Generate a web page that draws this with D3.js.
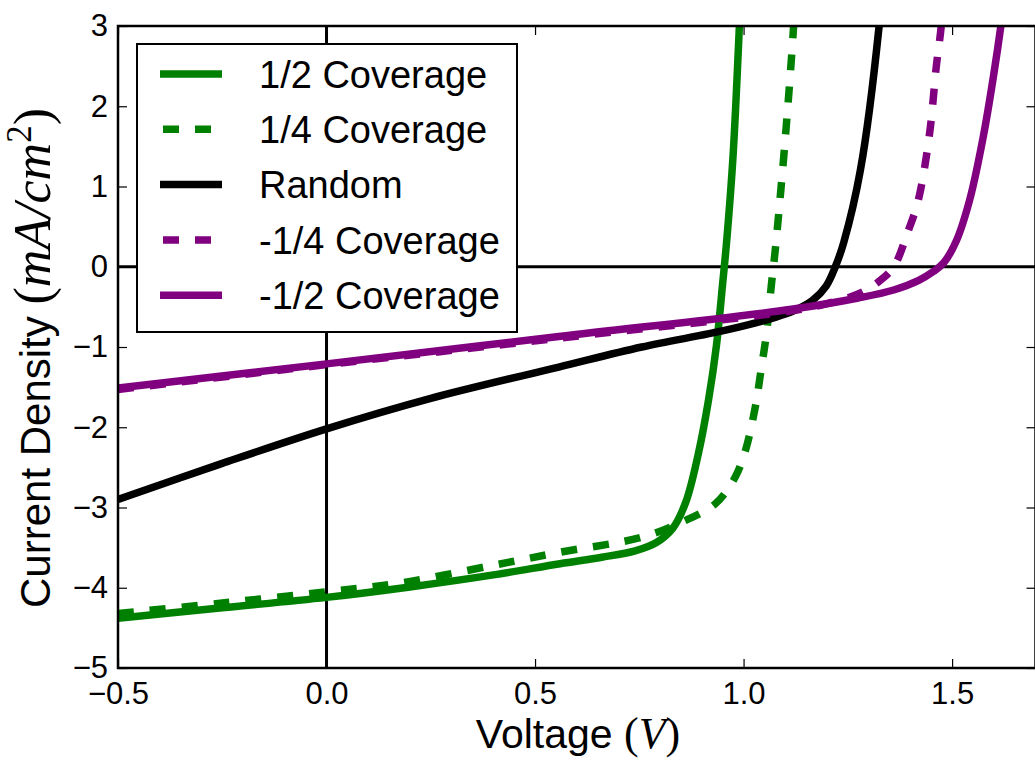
<!DOCTYPE html>
<meta charset="utf-8">
<style>
body { margin: 0; background: #fff; }
text { font-family: "Liberation Sans", Arial, Helvetica, sans-serif; fill: #000; }
.math { font-family: "Liberation Serif", "DejaVu Serif", serif; font-style: italic; }
.mathup { font-family: "Liberation Serif", "DejaVu Serif", serif; }
</style>
<body>
<svg id="chart" width="1035" height="763"></svg>
<script src="https://d3js.org/d3.v7.min.js"></script>
<script>

// series data: [voltage (V), current density (mA/cm^2)]
var halfCoverage = [
  [-0.5, -4.38], [-0.25, -4.25], [0.0, -4.12], [0.2, -3.99], [0.4, -3.84],
  [0.56, -3.70], [0.66, -3.62], [0.74, -3.54], [0.79, -3.44], [0.83, -3.26],
  [0.861, -2.94], [0.892, -2.32], [0.916, -1.66], [0.935, -0.98], [0.95, -0.2],
  [0.96, 0.35], [0.975, 1.4], [0.99, 3.0], [1.0, 4.2]
];
var quarterCoverage = [
  [-0.5, -4.32], [-0.25, -4.19], [0.0, -4.05], [0.177, -3.94], [0.4, -3.72],
  [0.557, -3.56], [0.756, -3.37], [0.861, -3.16], [0.933, -2.95], [0.98, -2.62],
  [1.005, -2.28], [1.028, -1.75], [1.043, -1.25], [1.055, -0.83], [1.067, -0.21],
  [1.076, 0.21], [1.10, 1.6], [1.12, 3.0], [1.13, 4.0]
];
var randomCoverage = [
  [-0.5, -2.90], [-0.25, -2.45], [0.0, -2.02], [0.25, -1.64], [0.557, -1.25],
  [0.756, -1.0], [0.957, -0.79], [1.076, -0.63], [1.12, -0.55], [1.165, -0.42],
  [1.198, -0.24], [1.22, 0.0], [1.24, 0.3], [1.28, 1.2], [1.325, 3.0], [1.34, 4.0]
];
var negQuarterCoverage = [
  [-0.5, -1.53], [0.0, -1.22], [0.557, -0.89], [1.115, -0.55], [1.2, -0.46],
  [1.275, -0.34], [1.323, -0.19], [1.36, 0.0], [1.395, 0.45], [1.419, 0.83],
  [1.446, 1.66], [1.462, 2.49], [1.474, 3.0], [1.485, 3.8]
];
var negHalfCoverage = [
  [-0.5, -1.51], [0.0, -1.21], [0.557, -0.87], [1.115, -0.53], [1.275, -0.39],
  [1.36, -0.29], [1.42, -0.17], [1.455, -0.06], [1.48, 0.05], [1.51, 0.32],
  [1.542, 0.83], [1.574, 1.60], [1.60, 2.40], [1.622, 3.2], [1.635, 3.8]
];

var seriesNames = ["1/2 Coverage", "1/4 Coverage", "Random", "-1/4 Coverage", "-1/2 Coverage"];
var seriesData = [halfCoverage, quarterCoverage, randomCoverage, negQuarterCoverage, negHalfCoverage];
var seriesColors = ["green", "green", "black", "purple", "purple"];
var seriesDashed = [false, true, false, true, false];

var xTicks = [-0.5, 0.0, 0.5, 1.0, 1.5];
var yTicks = [-5, -4, -3, -2, -1, 0, 1, 2, 3];

// plot box (note: "top" is reserved on window, so prefix these)
var boxL = 118, boxR = 1035.5, boxT = 26, boxB = 668;

var svg = d3.select("#chart");

var x = d3.scaleLinear().domain([-0.5, 1.7]).range([boxL, boxR]);
var y = d3.scaleLinear().domain([-5, 3]).range([boxB, boxT]);

var fmtX = function(d) { return d3.format(".1f")(d).replace("-", "\u2212"); };
var fmtY = function(d) { return String(d).replace("-", "\u2212"); };

svg.append("defs").append("clipPath").attr("id", "plotClip")
  .append("rect")
    .attr("x", boxL).attr("y", boxT)
    .attr("width", boxR - boxL).attr("height", boxB - boxT);

var plot = svg.append("g").attr("clip-path", "url(#plotClip)");

// zero lines
plot.append("line")
  .attr("x1", boxL).attr("x2", boxR)
  .attr("y1", y(0)).attr("y2", y(0))
  .attr("stroke", "#000").attr("stroke-width", 3);
plot.append("line")
  .attr("x1", x(0)).attr("x2", x(0))
  .attr("y1", boxT).attr("y2", boxB)
  .attr("stroke", "#000").attr("stroke-width", 3);

var line = d3.line()
  .x(function(d) { return x(d[0]); })
  .y(function(d) { return y(d[1]); })
  .curve(d3.curveCatmullRom.alpha(0.5));

seriesData.forEach(function(data, i) {
  plot.append("path")
    .datum(data)
    .attr("d", line)
    .attr("fill", "none")
    .attr("stroke", seriesColors[i])
    .attr("stroke-width", 7.5)
    .attr("stroke-linejoin", "round")
    .attr("stroke-dasharray", seriesDashed[i] ? "16,16" : null);
});

// axes, ticks pointing inward on all four sides
var axB = svg.append("g").attr("transform", "translate(0," + boxB + ")")
  .call(d3.axisBottom(x).tickValues(xTicks).tickFormat(fmtX).tickSizeInner(-9).tickSizeOuter(0).tickPadding(14));
var axL = svg.append("g").attr("transform", "translate(" + boxL + ",0)")
  .call(d3.axisLeft(y).tickValues(yTicks).tickFormat(fmtY).tickSizeInner(-9).tickSizeOuter(0).tickPadding(10));
var axT = svg.append("g").attr("transform", "translate(0," + boxT + ")")
  .call(d3.axisTop(x).tickValues(xTicks).tickFormat("").tickSizeInner(-9).tickSizeOuter(0));
var axR = svg.append("g").attr("transform", "translate(" + boxR + ",0)")
  .call(d3.axisRight(y).tickValues(yTicks).tickFormat("").tickSizeInner(-9).tickSizeOuter(0));

[axB, axL, axT, axR].forEach(function(a) {
  a.select(".domain").remove();
  a.selectAll(".tick line").attr("stroke", "#000").attr("stroke-width", 1.2);
  a.selectAll(".tick text").attr("font-size", 31).attr("font-family", "Liberation Sans, Arial, sans-serif").attr("fill", "#000");
});

// spines
svg.append("rect")
  .attr("x", boxL).attr("y", boxT)
  .attr("width", boxR - boxL).attr("height", boxB - boxT)
  .attr("fill", "none").attr("stroke", "#000").attr("stroke-width", 2.5);

// axis labels
var xl = svg.append("text")
  .attr("x", 578).attr("y", 748)
  .attr("text-anchor", "middle").attr("font-size", 41);
xl.append("tspan").text("Voltage ");
xl.append("tspan").attr("class", "mathup").attr("font-size", 44).text("(");
xl.append("tspan").attr("class", "math").attr("font-size", 44).text("V");
xl.append("tspan").attr("class", "mathup").attr("font-size", 44).text(")");

var yl = svg.append("text")
  .attr("transform", "translate(50,358) rotate(-90)")
  .attr("text-anchor", "middle").attr("font-size", 42);
yl.append("tspan").text("Current Density ");
yl.append("tspan").attr("class", "mathup").attr("font-size", 52).text("(");
yl.append("tspan").attr("class", "math").attr("font-size", 52).text("mA/cm");
yl.append("tspan").attr("class", "mathup").attr("font-size", 35).attr("dy", -19).text("2");
yl.append("tspan").attr("class", "mathup").attr("font-size", 52).attr("dy", 19).text(")");

// legend
var legend = svg.append("g");
legend.append("rect")
  .attr("x", 137).attr("y", 44).attr("width", 380).attr("height", 288)
  .attr("fill", "#fff").attr("stroke", "#000").attr("stroke-width", 2);

seriesNames.forEach(function(name, i) {
  var ry = 74 + i * 55.3;
  legend.append("line")
    .attr("x1", 160).attr("x2", 222).attr("y1", ry).attr("y2", ry)
    .attr("stroke", seriesColors[i]).attr("stroke-width", 7.5)
    .attr("stroke-dasharray", seriesDashed[i] ? "16,16" : null)
    .attr("stroke-dashoffset", seriesDashed[i] ? 29 : null);
  legend.append("text")
    .attr("x", 259).attr("y", ry).attr("dy", "0.36em")
    .attr("font-size", 38).text(name);
});

</script>
</body>
